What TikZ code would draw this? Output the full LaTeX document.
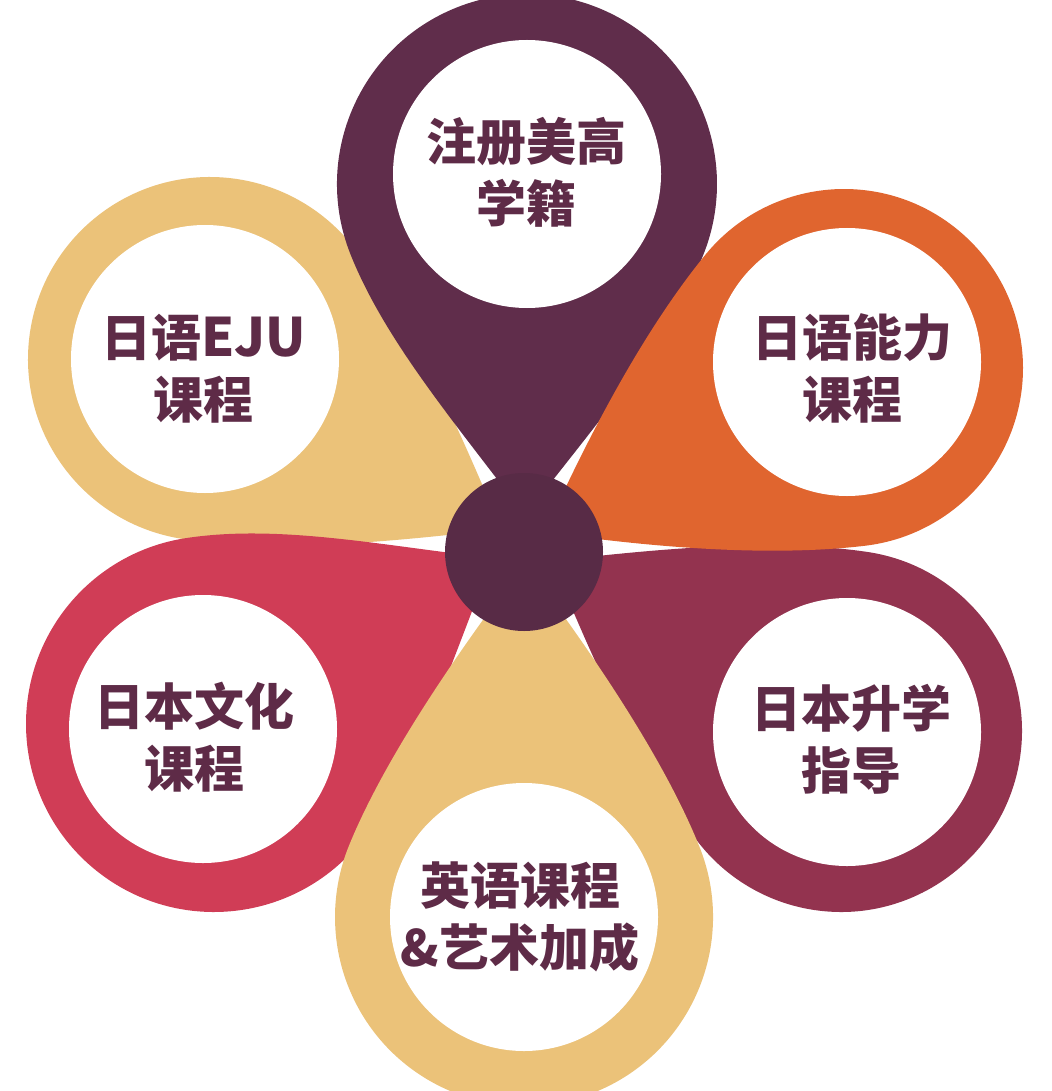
\documentclass[tikz,border=0pt]{standalone}
\usepackage{fontspec}
\newfontfamily\cjk{Noto Sans CJK SC}
\usetikzlibrary{calc}
\definecolor{cTop}{HTML}{602D4B}
\definecolor{cCenter}{HTML}{582B46}
\definecolor{cOrange}{HTML}{E0652F}
\definecolor{cMaroon}{HTML}{93334F}
\definecolor{cTan}{HTML}{EBC279}
\definecolor{cRed}{HTML}{D03D56}
\definecolor{cText}{HTML}{5E2B47}
\def\petGam{37}  % half-angle of the tail at the tip
\def\petBeta{68} % where the side joins the circle
\def\petA{110}
\def\petB{95}
% #1,#2 tip (image px), #3,#4 circle centre (image px), #5 radius, #6 colour
\newcommand{\flowerpetal}[6]{%
  \pgfmathsetmacro{\pdx}{#3-#1}%
  \pgfmathsetmacro{\pdy}{#2-#4}%
  \pgfmathsetmacro{\pth}{atan2(\pdy,\pdx)}%
  \pgfmathsetmacro{\pka}{\pth+180-\petBeta}%
  \pgfmathsetmacro{\pkb}{\pth-180+\petBeta}%
  \pgfmathsetmacro{\pta}{\pth+\petGam}%
  \pgfmathsetmacro{\ptb}{\pth-\petGam}%
  \pgfmathsetmacro{\pca}{\pth-90-\petBeta}%
  \pgfmathsetmacro{\pcb}{\pth+90+\petBeta}%
  \coordinate (T) at (#1,-#2);
  \coordinate (Q) at (#3,-#4);
  \coordinate (K1) at ($(Q)+(\pka:#5)$);
  \coordinate (K2) at ($(Q)+(\pkb:#5)$);
  \fill[#6] (T) .. controls ($(T)+(\pta:\petA)$) and ($(K1)+(\pca:\petB)$) .. (K1)
    arc[start angle=\pka, end angle=\pkb, radius=#5]
    .. controls ($(K2)+(\pcb:\petB)$) and ($(T)+(\ptb:\petA)$) .. (T) -- cycle;
}
\tikzset{
  hole/.style={fill=white},
  lbl/.style={align=center, text=cText, inner sep=0pt,
    font=\cjk\bfseries\fontsize{50}{62}\selectfont}
}
\begin{document}
\begin{tikzpicture}[x=1pt,y=1pt]
\useasboundingbox (0,0) rectangle (1051,-1091);
\clip (0,0) rectangle (1051,-1091);
% petals, back to front
\flowerpetal{501}{529}{210}{359}{182}{cTan}
\flowerpetal{525}{516}{527}{184}{190}{cTop}
\flowerpetal{493}{558}{214}{724}{188}{cRed}
\flowerpetal{552}{561}{841}{731}{181}{cMaroon}
\flowerpetal{545}{532}{844}{368}{179}{cOrange}
\flowerpetal{525}{563}{524}{917}{189}{cTan}
% white holes
\fill[hole] (527,-174) circle[radius=134];
\fill[hole] (847,-362) circle[radius=134];
\fill[hole] (847,-732) circle[radius=134];
\fill[hole] (524,-917) circle[radius=134];
\fill[hole] (203,-729) circle[radius=134];
\fill[hole] (205,-359) circle[radius=134];
% centre
\fill[cCenter] (524,-552) circle[radius=79];
% labels
\node[lbl] (ltop) at (526.5,-172.5) {注册美高\\学籍};
\node[lbl] (lur) at (852.5,-368) {日语能力\\课程};
\node[lbl] (llr) at (851,-739) {日本升学\\指导};
\node[lbl] (lbot) at (520,-916.5) {英语课程\\\&艺术加成};
\node[lbl] (lll) at (194,-737.5) {日本文化\\课程};
\node[lbl] (lul) at (203.5,-369) {日语\fontsize{53}{62}\selectfont EJU\\课程};
\end{tikzpicture}
\end{document}
